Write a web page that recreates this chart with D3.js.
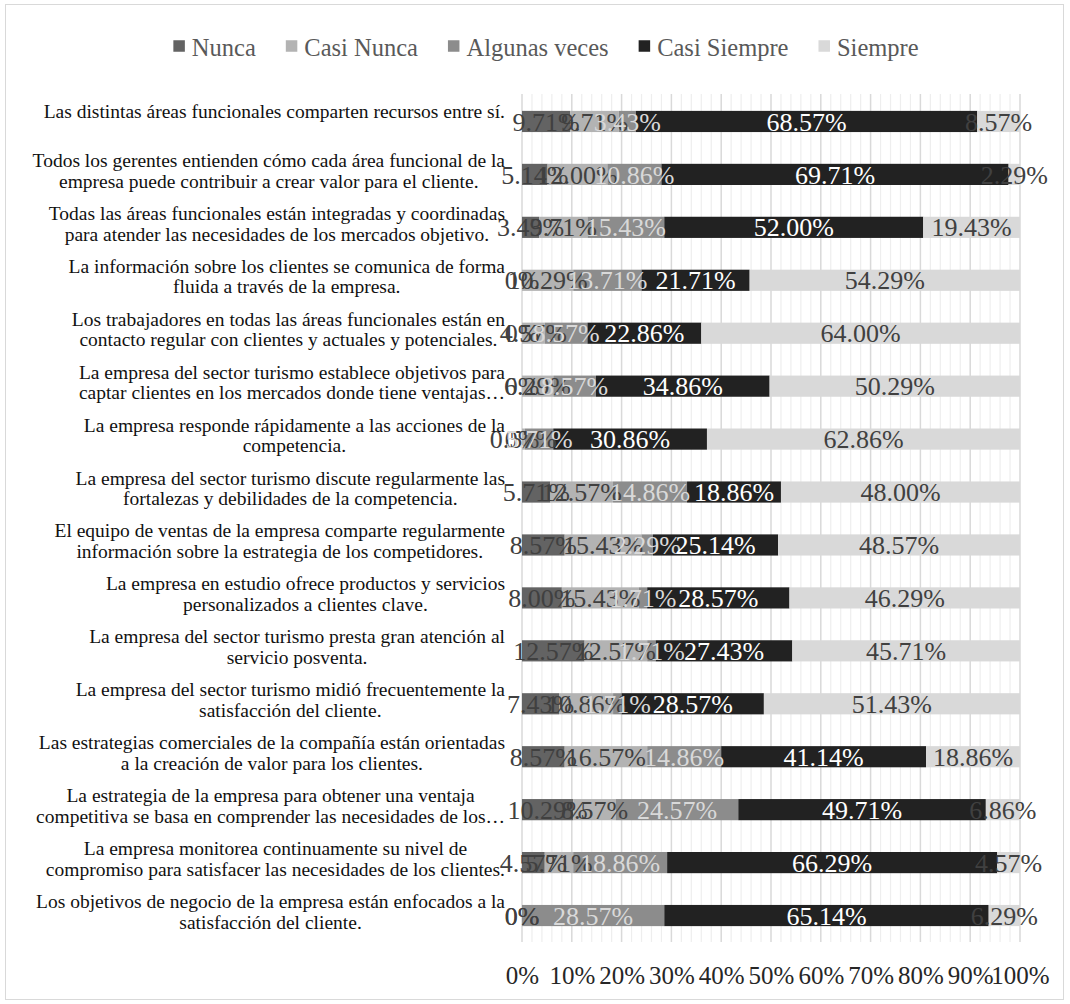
<!DOCTYPE html>
<html>
<head>
<meta charset="utf-8">
<script src="https://cdn.jsdelivr.net/npm/d3@7"></script>
<style>
  html, body { margin: 0; padding: 0; background: #ffffff; }
  svg { display: block; font-family: "Liberation Serif", "DejaVu Serif", serif; }
</style>
</head>
<body>
<svg id="chart" width="1070" height="1004"></svg>
<script>
// Survey statements (top to bottom), line breaks as shown on the axis
const categories = [
  "Las distintas áreas funcionales comparten recursos entre sí.",
  "Todos los gerentes entienden cómo cada área funcional de la\nempresa puede contribuir a crear valor para el cliente.",
  "Todas las áreas funcionales están integradas y coordinadas\npara atender las necesidades de los mercados objetivo.",
  "La información sobre los clientes se comunica de forma\nfluida a través de la empresa.",
  "Los trabajadores en todas las áreas funcionales están en\ncontacto regular con clientes y actuales y potenciales.",
  "La empresa del sector turismo establece objetivos para\ncaptar clientes en los mercados donde tiene ventajas…",
  "La empresa responde rápidamente a las acciones de la\ncompetencia.",
  "La empresa del sector turismo discute regularmente las\nfortalezas y debilidades de la competencia.",
  "El equipo de ventas de la empresa comparte regularmente\ninformación sobre la estrategia de los competidores.",
  "La empresa en estudio ofrece productos y servicios\npersonalizados a clientes clave.",
  "La empresa del sector turismo presta gran atención al\nservicio posventa.",
  "La empresa del sector turismo midió frecuentemente la\nsatisfacción del cliente.",
  "Las estrategias comerciales de la compañía están orientadas\na la creación de valor para los clientes.",
  "La estrategia de la empresa para obtener una ventaja\ncompetitiva se basa en comprender las necesidades de los…",
  "La empresa monitorea continuamente su nivel de\ncompromiso para satisfacer las necesidades de los clientes.",
  "Los objetivos de negocio de la empresa están enfocados a la\nsatisfacción del cliente."
];

// Percentages per answer option, same order as categories
const nunca        = [9.71, 5.14, 3.43, 0, 0, 0, 0, 5.71, 8.57, 8.00, 12.57, 7.43, 8.57, 10.29, 4.57, 0];
const casiNunca    = [9.71, 12.00, 9.71, 10.29, 4.57, 6.29, 0.57, 12.57, 15.43, 15.43, 12.57, 10.86, 16.57, 8.57, 5.71, 0];
const algunasVeces = [3.43, 10.86, 15.43, 13.71, 8.57, 8.57, 5.71, 14.86, 2.29, 1.71, 1.71, 1.71, 14.86, 24.57, 18.86, 28.57];
const casiSiempre  = [68.57, 69.71, 52.00, 21.71, 22.86, 34.86, 30.86, 18.86, 25.14, 28.57, 27.43, 28.57, 41.14, 49.71, 66.29, 65.14];
const siempre      = [8.57, 2.29, 19.43, 54.29, 64.00, 50.29, 62.86, 48.00, 48.57, 46.29, 45.71, 51.43, 18.86, 6.86, 4.57, 6.29];

const seriesNames = ["Nunca", "Casi Nunca", "Algunas veces", "Casi Siempre", "Siempre"];
const seriesValues = [nunca, casiNunca, algunasVeces, casiSiempre, siempre];
const seriesColors = ["#636363", "#b3b3b3", "#8c8c8c", "#222222", "#d9d9d9"];
const labelColors  = ["#404040", "#404040", "#d9d9d9", "#ffffff", "#404040"];
const xTicks = [0, 10, 20, 30, 40, 50, 60, 70, 80, 90, 100];

const svg = d3.select("#chart");

// chart frame
svg.append("rect")
  .attr("x", 5.5).attr("y", 4.5).attr("width", 1058).attr("height", 995)
  .attr("fill", "#ffffff").attr("stroke", "#d9d9d9").attr("stroke-width", 1);

const plotTop = 94, plotBottom = 942;
const x = d3.scaleLinear().domain([0, 100]).range([522, 1020]);
const y = d3.scaleBand().domain(d3.range(categories.length))
  .range([plotTop + 1, plotBottom]).paddingInner(0.6).paddingOuter(0.3);

// minor and major vertical gridlines
const grid = svg.append("g");
grid.selectAll("line.minor").data(d3.range(0, 101, 2).filter(v => v % 10 !== 0))
  .join("line").attr("class", "minor")
  .attr("x1", d => x(d)).attr("x2", d => x(d))
  .attr("y1", plotTop).attr("y2", plotBottom)
  .attr("stroke", "#eeeeee").attr("stroke-width", 1.2);
grid.selectAll("line.major").data(xTicks)
  .join("line").attr("class", "major")
  .attr("x1", d => x(d)).attr("x2", d => x(d))
  .attr("y1", plotTop).attr("y2", plotBottom)
  .attr("stroke", "#d9d9d9").attr("stroke-width", 1.5);

// stacked segments
const stacked = seriesValues.map((vals, s) => vals.map((v, i) => {
  const start = d3.sum(seriesValues.slice(0, s), arr => arr[i]);
  return { s, i, v, x0: start, x1: start + v };
}));

const bars = svg.append("g");
stacked.forEach((segs, s) => {
  bars.selectAll(null).data(segs).join("rect")
    .attr("x", d => x(d.x0))
    .attr("y", d => y(d.i))
    .attr("width", d => x(d.x1) - x(d.x0))
    .attr("height", y.bandwidth())
    .attr("fill", seriesColors[s]);
});

// value labels centred on each segment
const labels = svg.append("g").attr("font-size", 26).attr("text-anchor", "middle");
stacked.forEach((segs, s) => {
  labels.selectAll(null).data(segs).join("text")
    .attr("x", d => x((d.x0 + d.x1) / 2))
    .attr("y", d => y(d.i) + y.bandwidth() / 2)
    .attr("dy", "0.35em")
    .attr("fill", labelColors[s])
    .text(d => d.v === 0 ? "0%" : d.v.toFixed(2) + "%");
});

// category labels: centred lines, block aligned to the right of the axis
const catG = svg.append("g").attr("font-size", 19.5).attr("fill", "#111111");
const lineH = 20.7;
categories.forEach((c, i) => {
  const lines = c.split("\n");
  const cy = y(i) + y.bandwidth() / 2 - (lines.length === 1 ? 10 : 4);
  const t = catG.append("text").attr("text-anchor", "middle");
  const spans = lines.map((ln, k) => t.append("tspan")
    .attr("y", cy + (k - (lines.length - 1) / 2) * lineH)
    .attr("dy", "0.35em").text(ln));
  const w = d3.max(spans, sp => sp.node().getComputedTextLength());
  spans.forEach(sp => sp.attr("x", 505 - w / 2));
});

// percentage axis
const axis = svg.append("g").attr("transform", `translate(0,${plotBottom})`)
  .call(d3.axisBottom(x).tickValues(xTicks).tickSize(0).tickPadding(24)
    .tickFormat(d => d + "%"));
axis.select(".domain").remove();
axis.selectAll("text").attr("font-size", 25).attr("fill", "#262626")
  .attr("font-family", "Liberation Serif, DejaVu Serif, serif");

// legend
const legend = svg.append("g").attr("font-size", 24.5).attr("fill", "#595959");
const legY = 47, sq = 11.5, sqGap = 7, itemGap = 30;
const items = seriesNames.map((n, s) => {
  const g = legend.append("g");
  g.append("rect").attr("width", sq).attr("height", sq).attr("y", legY - sq / 2 - 1)
    .attr("fill", seriesColors[s]);
  const t = g.append("text").attr("x", sq + sqGap).attr("y", legY).attr("dy", "0.35em").text(n);
  return { g, w: sq + sqGap + t.node().getComputedTextLength() };
});
const total = d3.sum(items, d => d.w) + itemGap * (items.length - 1);
let lx = 546 - total / 2;
items.forEach(it => { it.g.attr("transform", `translate(${lx},0)`); lx += it.w + itemGap; });
</script>
</body>
</html>
